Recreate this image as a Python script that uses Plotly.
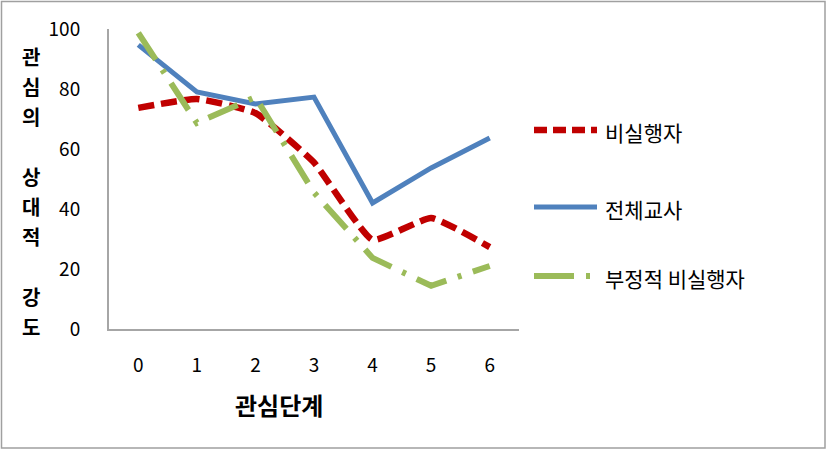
import plotly.graph_objects as go

stages = [0, 1, 2, 3, 4, 5, 6]
stage_labels = ["0", "1", "2", "3", "4", "5", "6"]
non_adopters = [73.7, 76.7, 72, 55.5, 29.7, 37, 27.3]
all_teachers = [94.7, 79, 75, 77.3, 42, 53.7, 63.7]
negative_non_adopters = [98.7, 68.7, 77.3, 45.5, 23.7, 14.4, 21]
y_ticks = [0, 20, 40, 60, 80, 100]
y_title_chars = ["관", "심", "의", "", "상", "대", "적", "", "강", "도"]
series_names = ["비실행자", "전체교사", "부정적 비실행자"]

FONT = "Noto Sans CJK KR"
colors = ["#C00000", "#4F81BD", "#9BBB59"]
widths = [6.5, 5, 6]
dashes = ["16px,7px", "solid", "32px,12px,4px,12px"]

L, R, T, B = 109, 519, 29, 329
PW, PH = R - L, B - T


def px(xp):
    return (xp - L) / PW


def py(yp):
    return (B - yp) / PH


fig = go.Figure()
series = [non_adopters, all_teachers, negative_non_adopters]
for i, vals in enumerate(series):
    line = dict(color=colors[i], width=widths[i], dash=dashes[i])
    if i == 0:
        line.update(shape="spline", smoothing=0.4)
    fig.add_trace(go.Scatter(x=stage_labels, y=vals, mode="lines", name=series_names[i],
                             line=line, showlegend=False, hoverinfo="skip"))

# custom legend
legend_y = [130, 207, 276]
legend_dash = ["13px,6px", "solid", "40px,12px,4px,12px"]
for i, name in enumerate(series_names):
    fig.add_shape(type="line", xref="paper", yref="paper",
                  x0=px(534), x1=px(597), y0=py(legend_y[i]), y1=py(legend_y[i]),
                  line=dict(color=colors[i], width=widths[i], dash=legend_dash[i]))
    fig.add_annotation(text=name, xref="paper", yref="paper", x=px(603), y=py(legend_y[i] + 2),
                       showarrow=False, xanchor="left", yanchor="middle",
                       font=dict(family=FONT, size=21, color="black"))

# vertical stacked y title
for i, ch in enumerate(y_title_chars):
    if ch:
        fig.add_annotation(text=ch, xref="paper", yref="y", x=px(31), y=90.7 - 10 * i,
                           showarrow=False, xanchor="center", yanchor="middle",
                           font=dict(family=FONT, size=20, color="black", weight="bold"))

fig.add_annotation(text="관심단계", xref="paper", yref="paper", x=px(279),
                   y=py(404), showarrow=False, xanchor="center", yanchor="middle",
                   font=dict(family=FONT, size=24, color="black", weight="bold"))

# outer border
fig.add_shape(type="rect", xref="paper", yref="paper",
              x0=px(1.5), x1=px(825), y0=py(448), y1=py(1.5),
              line=dict(color="#A0A0A0", width=1.5), layer="below")

fig.update_layout(
    width=827, height=450,
    margin=dict(l=L, r=827 - R, t=T, b=450 - B),
    paper_bgcolor="white", plot_bgcolor="white",
    font=dict(family=FONT, size=19, color="black"),
    showlegend=False,
    xaxis=dict(type="category", range=[-0.5, 6.5], showgrid=False, zeroline=False,
               showline=True, linecolor="#A6A6A6", linewidth=2, ticks="",
               ticklabelstandoff=18, tickfont=dict(size=19)),
    yaxis=dict(range=[0, 100], tickvals=y_ticks, showgrid=False, zeroline=False,
               showline=True, linecolor="#A6A6A6", linewidth=2, ticks="",
               ticklabelstandoff=23, tickfont=dict(size=19)),
)

fig.write_html("out.html", config={"displayModeBar": False},
               post_script="document.body.style.margin='0';document.body.style.overflow='hidden';")
